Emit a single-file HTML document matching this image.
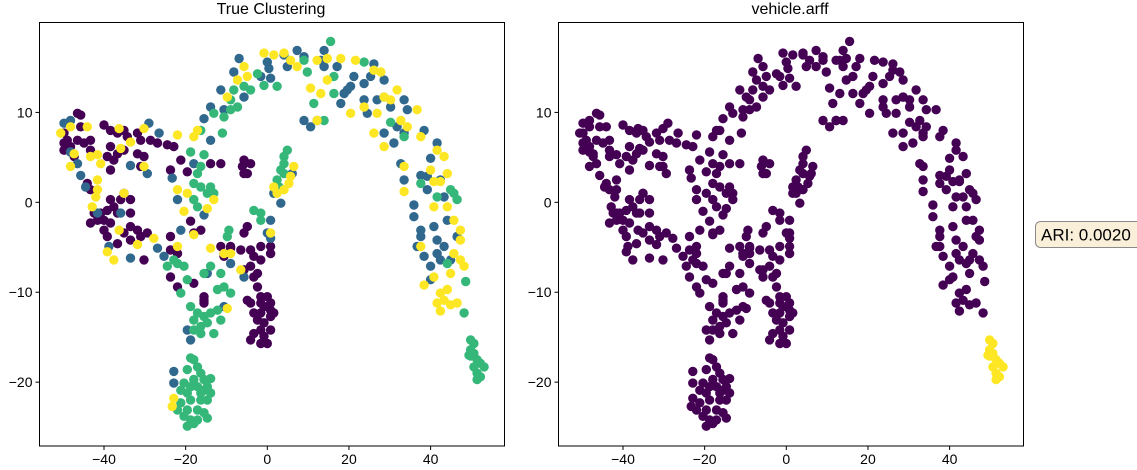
<!DOCTYPE html>
<html><head><meta charset="utf-8">
<style>
body{margin:0;background:#fff;}
svg{display:block;font-family:"Liberation Sans","DejaVu Sans",sans-serif;}
</style></head>
<body>
<svg id="fig" width="1137" height="470" viewBox="0 0 1137 470">
  <text x="271" y="14" font-size="16" text-anchor="middle">True Clustering</text>
  <text x="790" y="14" font-size="16" text-anchor="middle">vehicle.arff</text>
  <g id="left"></g>
  <g id="right"></g>
  <g>
    <rect x="1035.5" y="221.5" width="120" height="26" rx="5" fill="#faefd9" stroke="#8a8a8a" stroke-width="1"/>
    <text x="1041" y="240.5" font-size="17" fill="#000">ARI: 0.0020</text>
  </g>
</svg>
<script>
// label: 0 purple, 1 blue, 2 green, 3 yellow
const purplePts=[[-46.5,9.9],[-45.7,9.7],[-49.8,7.7],[-49.0,6.9],[-48.2,6.2],[-49.8,5.8],[-46.5,6.9],[-44.9,6.6],[-45.7,8.4],[-43.3,6.9],[-43.3,5.8],[-40.0,8.6],[-38.4,8.0],[-36.7,7.7],[-35.1,8.0],[-34.3,7.3],[-38.4,6.2],[-39.2,5.1],[-36.7,5.4],[-35.1,5.8],[-38.4,3.6],[-49.8,6.6],[-47.3,5.1],[-31.8,7.7],[-31.0,6.9],[-28.6,6.9],[-26.9,6.6],[-24.5,6.4],[-22.9,6.2],[-31.8,5.4],[-30.2,5.1],[-31.0,4.0],[-37.6,4.7],
[-44.1,2.1],[-43.3,1.4],[-38.4,0.3],[-37.6,-0.5],[-36.7,-1.2],[-35.1,1.0],[-33.5,0.3],[-33.5,-1.2],[-42.4,-1.2],[-41.6,-2.0],[-43.3,-2.3],[-40.0,-2.0],[-38.4,-2.3],[-40.0,-3.1],[-39.2,-3.8],[-36.7,-4.6],[-35.1,-3.4],[-33.5,-2.7],[-31.8,-3.1],[-31.0,-3.8],[-29.4,-3.4],[-30.2,-6.4],[-33.5,-4.2],[-40.8,-1.2],[-39.2,-0.9],[-35.9,0.3],
[-23.7,3.6],[-19.6,3.4],[-21.2,4.7],[-13.9,4.3],[-11.4,4.3],[-18.8,-2.1],[-16.3,-3.1],[-18.0,-3.4],[-23.7,-3.8],[-23.7,-5.3],[-22.0,-5.7],[-23.7,-8.3],[-22.0,-9.4],[-18.0,-9.0],[-15.5,-10.5],[-15.5,-11.2],[-11.4,-4.9],[-9.0,-5.1],[-10.6,-5.7],
[-5.7,4.7],[-4.1,4.3],[-5.7,3.2],[-4.9,-2.7],[-5.7,-3.4],[-6.5,-5.3],[-4.1,-5.3],[-1.6,-4.9],[-3.3,-6.0],[-1.6,-6.4],[-4.1,-7.1],[-2.4,-7.9],[-3.3,-8.3],[-5.7,-7.5],[0.8,-4.9],[0.8,-5.7],[-10.6,-6.0],[-9.0,-4.9],[-2.4,-9.4],[-4.9,-10.9],[-4.1,-11.2],[-1.6,-10.5],[0,-10.5],[-0.8,-11.6],[0.8,-12.0],[-1.6,-12.3],[0.8,-12.7],[-2.4,-13.1],[-0.8,-13.4],[-1.6,-14.2],[0.8,-14.2],[-3.3,-14.6],[-0.8,-14.9],[-4.1,-15.3],[-1.6,-15.7],[0,-15.7],[1.6,-12.3],[0.8,-11.2],[-1.6,-11.2],[-3.3,-12.3],[-6.1,4.0],[-4.9,3.2],[-15.5,-10.9]];
const bluePts=[[-49.8,8.8],[-48.2,9.1],[-48.2,5.6],[-46.5,4.3],[-45.7,3.0],[-33.5,4.1],[-29.0,8.8],[-26.5,7.7],[-29.4,3.2],[-44.5,1.7],[-41.6,-1.2],[-35.9,-1.2],[-38.8,-4.9],[-33.5,-6.2],[-26.9,-5.1],[-25.3,-6.0],[-23.3,2.7],[-18.0,4.3],[-22.0,0.3],[-21.2,-3.1],[-15.5,-1.4],[-9.0,-6.8],[-14.7,-7.9],[-15.5,9.3],[-13.9,10.6],[-11.4,12.5],[-10.6,10.3],[-8.2,14.5],[-6.9,16.0],[-5.7,11.7],[0,15.6],[0.4,14.9],[4.1,16.4],[0.8,13.8],[-13.9,6.9],[-1.6,14.0],[7.3,16.9],[13.9,16.9],[13.9,15.1],[17.1,15.1],[13.1,15.8],[4.9,15.1],[9.0,16.2],[18.8,12.1],[18.0,11.0],[9.0,9.1],[10.6,8.4],[12.2,9.1],[21.2,14.0],[23.7,13.2],[26.1,15.4],[25.3,14.0],[23.7,11.4],[20.4,12.9],[28.6,13.6],[30.2,10.6],[26.9,11.4],[33.5,11.4],[24.5,9.9],[31.8,8.4],[33.5,7.7],[34.3,10.3],[28.6,7.7],[31.0,6.6],[19.6,12.5],[38.4,8.0],[41.6,6.6],[40.0,4.9],[32.7,4.3],[33.5,2.5],[37.6,3.0],[39.2,2.9],[42.4,2.5],[39.2,1.4],[43.3,0.6],[35.9,-0.3],[35.9,-1.6],[40.8,-2.7],[44.1,-2.0],[37.6,-3.1],[36.7,-4.9],[38.4,-6.0],[40.0,-7.1],[41.6,-4.2],[41.6,-5.7],[43.3,-4.9],[46.5,-3.8],[42.4,-6.4],[37.6,-3.8],[40.0,-8.6],[44.9,-6.4],[0,-3.4],[0.8,-4.0],[0.8,-2.0],[-5.7,-8.3],[1.6,1.0],[3.3,-0.1],[6.1,3.2],[-22.9,-18.8],[-22.9,-20.1],[-19.6,-14.2],[-18.8,-15.3],[-10.6,-11.6]];
const greenPts=[[-18.8,5.6],[-15.5,5.3],[-16.3,4.0],[-17.1,3.2],[-18.0,2.1],[-16.3,1.7],[-13.9,1.7],[-18.0,0.3],[-17.1,-0.5],[-14.7,1.0],[-13.1,1.0],[-24.5,-7.1],[-22.0,-6.8],[-20.4,-7.1],[-22.9,-6.4],[-19.6,-8.6],[-21.2,-10.1],[-11.4,-7.9],[-10.6,-9.4],[-9.0,-10.1],[-15.5,-7.9],[-13.9,-7.1],[-12.2,-9.7],[-13.1,9.9],[-10.6,9.5],[-9.0,10.3],[-7.3,10.6],[-8.2,12.5],[-5.7,12.9],[-4.1,12.5],[-2.4,14.3],[-0.8,13.0],[2.4,12.9],[-11.0,7.7],[-16.3,8.0],[-9.0,11.4],[9.0,15.8],[15.5,17.9],[9.8,14.5],[16.3,14.0],[16.3,12.1],[11.4,11.0],[13.9,9.1],[23.7,15.6],[30.2,8.9],[33.5,7.3],[28.6,11.7],[37.6,2.1],[44.9,1.4],[46.5,0.3],[41.6,0.6],[44.1,-6.8],[48.6,-8.8],[48.2,-12.3],[45.7,1.0],[-3.3,-0.9],[-1.6,-1.2],[-1.6,-2.0],[-9.4,-3.1],[-9.8,-3.8],[4.9,5.8],[4.1,5.1],[4.1,4.3],[3.3,3.6],[2.4,2.5],[2.9,1.7],[4.1,3.2],
[-18.8,-17.3],[-18.0,-17.5],[-17.1,-18.3],[-19.6,-18.6],[-16.3,-19.0],[-15.5,-19.7],[-13.9,-19.6],[-18.0,-19.7],[-20.4,-20.1],[-21.2,-20.9],[-19.6,-21.2],[-17.1,-20.5],[-15.5,-20.9],[-13.9,-21.2],[-18.8,-22.0],[-16.3,-22.0],[-14.7,-22.0],[-21.2,-22.3],[-19.6,-23.1],[-17.1,-23.1],[-15.5,-23.4],[-20.4,-23.8],[-18.8,-24.2],[-17.1,-24.2],[-14.7,-24.0],[-19.6,-24.9],[-18.0,-24.6],[-22.0,-23.1],[-16.3,-21.2],[-18.8,-20.5],[-14.7,-20.5],
[-18.8,-11.6],[-17.1,-12.3],[-18.0,-13.1],[-16.3,-13.8],[-15.5,-12.7],[-13.9,-12.3],[-12.2,-12.0],[-11.4,-13.1],[-13.1,-14.6],[-16.3,-14.6],[-18.0,-14.2],[-14.7,-13.4]];
const farGreenPts=[[49.8,-15.3],[50.6,-15.7],[49.8,-16.4],[50.6,-16.8],[49.8,-17.1],[51.4,-17.5],[52.2,-17.9],[50.6,-18.3],[53.1,-18.3],[51.4,-19.0],[52.2,-19.4],[51.4,-19.7],[49.4,-17.0]];
const yellowPts=[[-50.6,7.7],[-48.2,8.4],[-44.1,8.4],[-47.3,5.4],[-43.3,5.1],[-41.6,5.3],[-48.2,4.0],[-40.8,4.3],[-36.3,8.2],[-33.5,6.7],[-35.9,6.0],[-30.2,8.2],[-30.2,4.0],[-22.0,7.5],[-41.6,2.5],[-42.0,0.6],[-42.9,-0.5],[-35.1,1.0],[-36.3,-3.1],[-39.2,-5.5],[-37.6,-6.4],[-27.8,-4.0],[-31.8,-4.7],[-41.6,1.4],[-22.0,1.4],[-19.6,1.0],[-20.4,-1.0],[-14.7,-0.7],[-13.1,0.3],[-13.9,-5.1],[-10.6,-5.7],[-18.0,-3.6],[-22.0,-4.9],[-6.5,-7.5],[-18.0,7.3],[-17.1,8.0],[-5.7,15.1],[-4.9,14.0],[-7.3,13.6],[-0.8,16.6],[1.6,16.4],[-9.8,11.7],[5.7,15.8],[7.3,15.1],[12.2,15.8],[14.7,16.0],[18.0,16.0],[14.7,13.6],[10.6,12.7],[13.1,12.1],[12.2,9.1],[4.1,16.6],[21.6,15.8],[26.1,14.7],[27.8,14.5],[28.6,11.7],[23.7,10.6],[20.4,9.9],[26.9,9.9],[30.2,11.4],[31.8,12.5],[32.7,9.1],[36.7,10.3],[28.6,6.2],[34.3,8.4],[26.1,7.7],[37.6,7.3],[43.3,5.1],[41.6,5.8],[33.5,4.0],[40.0,3.6],[44.1,3.2],[42.4,2.3],[33.5,1.2],[40.8,2.3],[44.1,-0.5],[45.7,-2.0],[47.3,-3.1],[45.7,-5.7],[47.3,-6.4],[48.2,-7.1],[44.9,-7.9],[38.4,-9.2],[40.8,-8.3],[42.4,-10.1],[41.6,-11.2],[43.3,-10.9],[44.9,-11.4],[46.5,-11.2],[42.4,-12.1],[44.1,-9.7],[37.6,-4.9],[40.8,-0.5],[47.3,-4.2],[0.8,-3.4],[-9.0,-5.7],[6.5,4.0],[5.7,2.9],[5.3,2.1],[4.1,1.4],[2.4,1.0],[1.6,1.7],[-22.9,-21.8],[-23.3,-22.7],[-9.8,-11.8]];
const xTicks=[-40,-20,0,20,40];
const yTicks=[-20,-10,0,10];
const xDomain=[-55.8,58.1];
const yDomain=[-27.1,20.0];

const PURPLE='#440154',BLUE='#31688e',GREEN='#35b779',YELLOW='#fde725';
const NS='http://www.w3.org/2000/svg';
function mk(tag,attrs,parent){const e=document.createElementNS(NS,tag);for(const k in attrs)e.setAttribute(k,attrs[k]);parent.appendChild(e);return e;}

function panel(g,left,groups){
  const top=22.5,w=465,h=423.5;
  const sx=v=>left+(v-xDomain[0])/(xDomain[1]-xDomain[0])*w;
  const sy=v=>top+(yDomain[1]-v)/(yDomain[1]-yDomain[0])*h;
  const pts=mk('g',{},g);
  
  
  groups.forEach(([arr,col,name])=>{
    arr.forEach(p=>{
      const c=mk('circle',{cx:sx(p[0]).toFixed(1),cy:sy(p[1]).toFixed(1),r:4.7,fill:col},pts);
      
      
    });
  });
  const frame=mk('rect',{x:left,y:top,width:w,height:h,fill:'none',stroke:'#000','stroke-width':1},g);
  
  
  xTicks.forEach(t=>{
    const x=sx(t);
    mk('line',{x1:x,x2:x,y1:top+h,y2:top+h+4,stroke:'#000'},g);
    const tx=mk('text',{x:x,y:top+h+18,'font-size':14,'text-anchor':'middle'},g);
    tx.textContent=(t<0?'\u2212':'')+Math.abs(t);
    
    
  });
  yTicks.forEach(t=>{
    const y=sy(t);
    mk('line',{x1:left-4,x2:left,y1:y,y2:y,stroke:'#000'},g);
    const tx=mk('text',{x:left-7,y:y+5,'font-size':14,'text-anchor':'end'},g);
    tx.textContent=(t<0?'\u2212':'')+Math.abs(t);
    
    
  });
}
panel(document.getElementById('left'),39.5,[
  [purplePts,PURPLE,'point-class-0'],[bluePts,BLUE,'point-class-1'],[greenPts,GREEN,'point-class-2'],[farGreenPts,GREEN,'point-class-2'],[yellowPts,YELLOW,'point-class-3']]);
panel(document.getElementById('right'),558.5,[
  [purplePts,PURPLE,'point-cluster-0'],[bluePts,PURPLE,'point-cluster-0'],[greenPts,PURPLE,'point-cluster-0'],[yellowPts,PURPLE,'point-cluster-0'],[farGreenPts,YELLOW,'point-cluster-1']]);
</script>
</body></html>
